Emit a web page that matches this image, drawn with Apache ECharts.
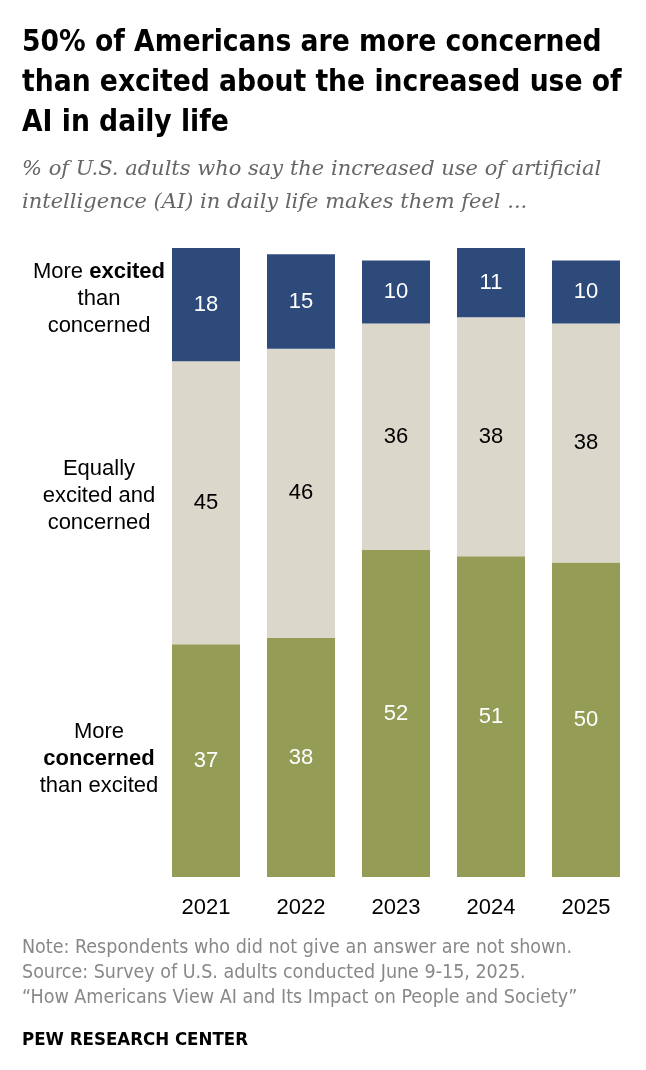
<!DOCTYPE html>
<html>
<head>
<meta charset="utf-8">
<script src="https://cdn.jsdelivr.net/npm/echarts@6/dist/echarts.min.js"></script>
<style>
  html, body { margin: 0; padding: 0; background: #fff; }
  #chart { width: 646px; height: 1070px; }
</style>
</head>
<body>
<div id="chart"></div>
<script>
// data
const years = ["2021", "2022", "2023", "2024", "2025"];
const concerned = [37, 38, 52, 51, 50];
const equally = [45, 46, 36, 38, 38];
const excited = [18, 15, 10, 11, 10];

const chart = echarts.init(document.getElementById("chart"));

const barFont = "Liberation Sans";
const narrow = "'DejaVu Sans Condensed', 'Liberation Sans', sans-serif";

function stack(name, data, color, textColor) {
  return {
    name: name,
    type: "bar",
    stack: "all",
    data: data,
    barWidth: 68,
    itemStyle: { color: color },
    label: {
      show: true,
      position: "inside",
      color: textColor,
      fontFamily: barFont,
      fontSize: 22
    }
  };
}

chart.setOption({
  animation: false,
  title: [
    {
      text: "50% of Americans are more concerned\nthan excited about the increased use of\nAI in daily life",
      left: 17,
      top: 18,
      textStyle: {
        fontFamily: narrow,
        fontWeight: "bold",
        fontSize: 29.6,
        lineHeight: 40,
        color: "#000"
      }
    },
    {
      text: "% of U.S. adults who say the increased use of artificial\nintelligence (AI) in daily life makes them feel ...",
      left: 17,
      top: 148,
      textStyle: {
        fontFamily: "DejaVu Serif",
        fontStyle: "italic",
        fontWeight: "normal",
        fontSize: 21,
        lineHeight: 33,
        color: "#666"
      }
    }
  ],
  grid: { left: 158.5, right: 12.5, top: 248, bottom: 193 },
  xAxis: {
    type: "category",
    data: years,
    axisLine: { show: false },
    axisTick: { show: false },
    axisLabel: {
      color: "#000",
      fontFamily: barFont,
      fontSize: 22,
      margin: 20
    }
  },
  yAxis: {
    type: "value",
    min: 0,
    max: 100,
    show: false
  },
  series: [
    stack("More concerned than excited", concerned, "#959c56", "#fff"),
    stack("Equally excited and concerned", equally, "#dbd7cb", "#000"),
    stack("More excited than concerned", excited, "#2d4a7a", "#fff")
  ],
  graphic: [
    {
      type: "text",
      x: 99, y: 299,
      style: {
        text: "More {b|excited}\nthan\nconcerned",
        align: "center", verticalAlign: "middle",
        fontFamily: barFont, fontSize: 22, lineHeight: 27, fill: "#000",
        rich: { b: { fontFamily: barFont, fontSize: 22, fontWeight: "bold", lineHeight: 27 } }
      }
    },
    {
      type: "text",
      x: 99, y: 496,
      style: {
        text: "Equally\nexcited and\nconcerned",
        align: "center", verticalAlign: "middle",
        fontFamily: barFont, fontSize: 22, lineHeight: 27, fill: "#000"
      }
    },
    {
      type: "text",
      x: 99, y: 759,
      style: {
        text: "More\n{b|concerned}\nthan excited",
        align: "center", verticalAlign: "middle",
        fontFamily: barFont, fontSize: 22, lineHeight: 27, fill: "#000",
        rich: { b: { fontFamily: barFont, fontSize: 22, fontWeight: "bold", lineHeight: 27 } }
      }
    },
    {
      type: "text",
      left: 22, top: 935,
      style: {
        text: "Note: Respondents who did not give an answer are not shown.\nSource: Survey of U.S. adults conducted June 9-15, 2025.\n\u201cHow Americans View AI and Its Impact on People and Society\u201d",
        fontFamily: narrow,
        fontSize: 19.5,
        lineHeight: 25,
        fill: "#888"
      }
    },
    {
      type: "text",
      left: 22, top: 1031,
      style: {
        text: "PEW RESEARCH CENTER",
        fontFamily: narrow,
        fontWeight: "bold",
        fontSize: 18.5,
        fill: "#000"
      }
    }
  ]
});
</script>
</body>
</html>
